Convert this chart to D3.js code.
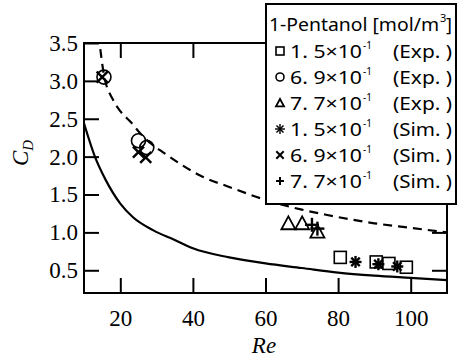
<!DOCTYPE html>
<html>
<head>
<meta charset="utf-8">
<script src="https://cdn.jsdelivr.net/npm/d3@7"></script>
<style>
  body { margin: 0; background: #fff; }
  svg { display: block; }
  .serif { font-family: "Liberation Serif", "Tinos", "Noto Serif", "DejaVu Serif", "Times New Roman", Times, serif; }
  .gothic { font-family: "Liberation Sans Narrow", "Noto Sans", "Liberation Sans", sans-serif; }
</style>
</head>
<body>
<div id="chart"></div>
<script>
// ------ DATA ------

// curves
const solidRe = [10, 13, 16, 20, 23.5, 29, 35, 40, 50, 60, 70, 80, 90, 100, 110];
const solidCd = [2.44, 2.0, 1.69, 1.38, 1.2, 1.03, 0.9, 0.79, 0.67, 0.59, 0.53, 0.47, 0.43, 0.4, 0.37];

const dashRe = [14, 15.5, 18, 20, 23, 26, 28.5, 32, 36, 42, 50, 60, 70, 77, 90, 100, 110];
const dashCd = [3.62, 3.08, 2.75, 2.6, 2.45, 2.28, 2.17, 2.05, 1.92, 1.75, 1.6, 1.43, 1.3, 1.23, 1.12, 1.06, 1.0];

// measured / simulated points
const sqRe = [80.6, 90.5, 94, 98.8];       // 1.5e-1 Exp.
const sqCd = [0.67, 0.61, 0.59, 0.54];
const ciRe = [15.5, 25, 27.3];             // 6.9e-1 Exp.
const ciCd = [3.05, 2.21, 2.12];
const trRe = [66.3, 70.1, 74.3];           // 7.7e-1 Exp.
const trCd = [1.12, 1.12, 1.01];
const stRe = [84.8, 91.1, 96.3];           // 1.5e-1 Sim.
const stCd = [0.61, 0.58, 0.55];
const xxRe = [15.0, 25, 27];               // 6.9e-1 Sim.
const xxCd = [3.05, 2.06, 1.99];
const plRe = [72.8, 74.3];                 // 7.7e-1 Sim.
const plCd = [1.1, 1.05];

const xTicks = [20, 40, 60, 80, 100];
const yTicks = [0.5, 1.0, 1.5, 2.0, 2.5, 3.0, 3.5];

const legendTitle = '1-Pentanol [mol/m';
const legendVals = ['1. 5\u00d710', '6. 9\u00d710', '7. 7\u00d710', '1. 5\u00d710', '6. 9\u00d710', '7. 7\u00d710'];
const legendKind = ['(Exp. )', '(Exp. )', '(Exp. )', '(Sim. )', '(Sim. )', '(Sim. )'];
const legendSym = ['square', 'circle', 'triangle', 'star', 'cross', 'plus'];

// ------ LAYOUT ------

const W = 457, H = 358;
const margin = {top: 43, right: 10, bottom: 65, left: 84};
const width = W - margin.left - margin.right,
      height = H - margin.top - margin.bottom;

const svg = d3.select('#chart').append('svg')
  .attr('width', W).attr('height', H);

const g = svg.append('g')
  .attr('transform', `translate(${margin.left},${margin.top})`);

const x = d3.scaleLinear().domain([10, 110]).range([0, width]);
const y = d3.scaleLinear().domain([0.2, 3.5]).range([height, 0]);

// axes: inward ticks on all four sides
function styleAxis(sel) {
  sel.attr('font-family', null).attr('font-size', null);
  sel.select('.domain').remove();
  sel.selectAll('.tick line').attr('stroke', '#000').attr('stroke-width', 2);
  sel.selectAll('.tick text')
    .attr('class', 'serif').attr('font-size', 23).attr('fill', '#000');
}

g.append('g')
  .attr('transform', `translate(0,${height})`)
  .call(d3.axisBottom(x).tickValues(xTicks).tickSize(-15).tickPadding(17).tickFormat(d3.format('d')))
  .call(styleAxis);

g.append('g')
  .call(d3.axisTop(x).tickValues(xTicks).tickSize(-15).tickFormat(''))
  .call(styleAxis);

g.append('g')
  .call(d3.axisLeft(y).tickValues(yTicks).tickSize(-15).tickPadding(6).tickFormat(d3.format('.1f')))
  .call(styleAxis);

g.append('g')
  .attr('transform', `translate(${width},0)`)
  .call(d3.axisRight(y).tickValues(yTicks).tickSize(-15).tickFormat(''))
  .call(styleAxis);

g.append('rect')
  .attr('width', width).attr('height', height)
  .attr('fill', 'none').attr('stroke', '#000').attr('stroke-width', 2);

// clip for curves
svg.append('defs').append('clipPath').attr('id', 'plotClip')
  .append('rect').attr('width', width).attr('height', height);

const line = d3.line()
  .x(d => x(d[0]))
  .y(d => y(d[1]))
  .curve(d3.curveMonotoneX);

const curves = g.append('g').attr('clip-path', 'url(#plotClip)');

curves.append('path')
  .datum(solidRe.map((r, i) => [r, solidCd[i]]))
  .attr('fill', 'none').attr('stroke', '#000').attr('stroke-width', 2.2)
  .attr('d', line);

curves.append('path')
  .datum(dashRe.map((r, i) => [r, dashCd[i]]))
  .attr('fill', 'none').attr('stroke', '#000').attr('stroke-width', 2.2)
  .attr('stroke-dasharray', '9,6')
  .attr('d', line);

// ------ MARKERS ------

function drawSymbol(sel, kind, s, lw) {
  // s = half size, lw = line width of stroked symbols
  const k = sel.append('g');
  if (kind === 'square') {
    k.append('rect').attr('x', -s).attr('y', -s).attr('width', 2 * s).attr('height', 2 * s)
      .attr('fill', 'none').attr('stroke', '#000').attr('stroke-width', 1.6);
  } else if (kind === 'circle') {
    k.append('circle').attr('r', s)
      .attr('fill', 'none').attr('stroke', '#000').attr('stroke-width', 1.6);
  } else if (kind === 'triangle') {
    k.append('path')
      .attr('d', `M0,${-s}L${s},${s * 0.85}L${-s},${s * 0.85}Z`)
      .attr('fill', 'none').attr('stroke', '#000').attr('stroke-width', 1.8);
  } else if (kind === 'star') {
    [0, 45, 90, 135].forEach(a => {
      k.append('line').attr('x1', -s).attr('x2', s)
        .attr('transform', `rotate(${a})`)
        .attr('stroke', '#000').attr('stroke-width', lw);
    });
  } else if (kind === 'cross') {
    [45, 135].forEach(a => {
      k.append('line').attr('x1', -s * 1.3).attr('x2', s * 1.3)
        .attr('transform', `rotate(${a})`)
        .attr('stroke', '#000').attr('stroke-width', lw);
    });
  } else if (kind === 'plus') {
    [0, 90].forEach(a => {
      k.append('line').attr('x1', -s).attr('x2', s)
        .attr('transform', `rotate(${a})`)
        .attr('stroke', '#000').attr('stroke-width', lw);
    });
  }
  return k;
}

function plotSeries(res, cds, kind, s) {
  res.forEach((r, i) => {
    drawSymbol(g, kind, s, 2.4).attr('transform', `translate(${x(r)},${y(cds[i])})`);
  });
}

plotSeries(sqRe, sqCd, 'square', 6);
plotSeries(ciRe, ciCd, 'circle', 7);
plotSeries(trRe, trCd, 'triangle', 7);
plotSeries(stRe, stCd, 'star', 6);
plotSeries(xxRe, xxCd, 'cross', 6);
plotSeries(plRe, plCd, 'plus', 7);

// ------ AXIS TITLES ------

const yl = svg.append('text')
  .attr('class', 'serif')
  .attr('transform', 'translate(28,153) rotate(-90)')
  .attr('text-anchor', 'middle')
  .attr('font-style', 'italic').attr('font-size', 23);
yl.append('tspan').text('C');
yl.append('tspan').attr('font-size', 15).attr('dy', 5).text('D');

svg.append('text')
  .attr('class', 'serif')
  .attr('x', 264).attr('y', 353)
  .attr('text-anchor', 'middle')
  .attr('font-style', 'italic').attr('font-size', 23)
  .text('Re');

// ------ LEGEND ------

const leg = svg.append('g');
leg.append('rect')
  .attr('x', 266).attr('y', 4).attr('width', 190).attr('height', 200)
  .attr('fill', '#fff').attr('stroke', '#000').attr('stroke-width', 2);

leg.append('text')
  .attr('class', 'gothic')
  .attr('x', 269).attr('y', 31)
  .attr('font-size', 18)
  .attr('textLength', 170).attr('lengthAdjust', 'spacingAndGlyphs')
  .text(legendTitle);
leg.append('text')
  .attr('class', 'gothic')
  .attr('x', 440).attr('y', 22)
  .attr('font-size', 11).text('3');
leg.append('text')
  .attr('class', 'gothic')
  .attr('x', 446).attr('y', 31)
  .attr('font-size', 18).text(']');

legendSym.forEach((sym, i) => {
  const cy = 51 + i * 26;
  const sz = sym === 'star' ? 5 : 4;
  drawSymbol(leg, sym, sz, sym === 'star' ? 1.4 : 2).attr('transform', `translate(280,${cy})`);
  leg.append('text')
    .attr('class', 'gothic')
    .attr('x', 290).attr('y', cy + 7)
    .attr('font-size', 18)
    .attr('textLength', 72).attr('lengthAdjust', 'spacingAndGlyphs')
    .text(legendVals[i]);
  leg.append('text')
    .attr('class', 'gothic')
    .attr('x', 363).attr('y', cy - 2)
    .attr('font-size', 10)
    .text('-1');
  leg.append('text')
    .attr('class', 'gothic')
    .attr('x', 393).attr('y', cy + 7)
    .attr('font-size', 18)
    .attr('textLength', 59).attr('lengthAdjust', 'spacingAndGlyphs')
    .text(legendKind[i]);
});
</script>
</body>
</html>
